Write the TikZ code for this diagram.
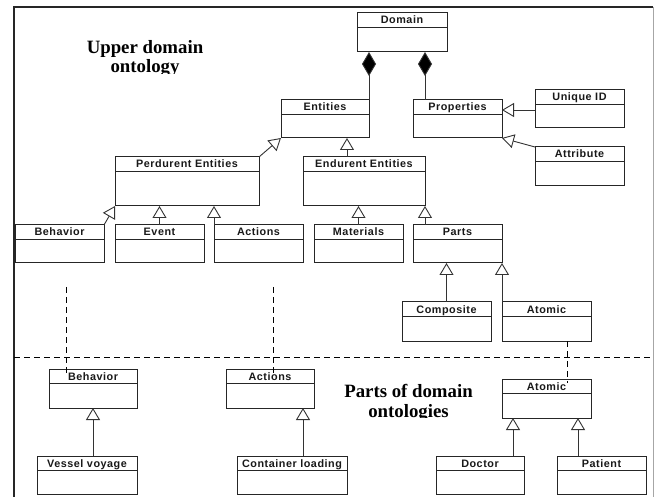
\documentclass[tikz,border=0pt]{standalone}
\usepackage{fontspec}
\setmainfont{Liberation Serif}
\setsansfont{Liberation Sans}
\usetikzlibrary{arrows.meta}
\newfontfamily\lblfont[LetterSpace=5]{Liberation Sans}
\tikzset{
  cls/.style={draw=black!85, line width=1pt, rectangle, inner sep=0pt, outer sep=0pt, anchor=north west},
  clsline/.style={draw=black!85, line width=1pt},
  lbl/.style={font=\lblfont\bfseries\fontsize{10.8pt}{12pt}\selectfont, anchor=base, inner sep=0pt, text=black!90},
  gen/.style={draw=black!80, line width=0.9pt, -{Triangle[open, length=12pt, width=14pt, line width=0.9pt]}},
  comp/.style={draw=black!80, line width=0.9pt, -{Diamond[length=24pt, width=14pt, fill=black]}},
  dsh/.style={draw=black, line width=1pt, dash pattern=on 6pt off 4pt},
  ttl/.style={font=\bfseries\fontsize{18.8pt}{20pt}\selectfont, anchor=base, inner sep=0pt},
}
\newcommand\umlclass[6]{%
  \node[cls, minimum width=#4pt, minimum height=#5pt] (#1) at (#2,#3) {};
  \draw[clsline] ([yshift=-14.5pt]#1.north west) -- ([yshift=-14.5pt]#1.north east);
  \node[lbl] at ([yshift=-11pt]#1.north) {#6};
}
\begin{document}
\begin{tikzpicture}[x=1pt, y=-1pt]
\fill[white] (0,0) rectangle (659,497);
\useasboundingbox (0,0) rectangle (659,497);
% frame
\draw[black!85, line width=1.4pt] (14,497) -- (14,7) -- (653,7);
\draw[black!35, line width=1pt] (653,7) -- (653,497);
% classes
\umlclass{domain}{357}{13}{90}{39}{Domain}
\umlclass{ent}{281}{100}{88}{38}{Entities}
\umlclass{props}{413}{100}{89}{38}{Properties}
\umlclass{uid}{535}{90}{89}{38}{Unique ID}
\umlclass{attr}{535}{147}{89}{39}{Attribute}
\umlclass{perd}{115}{157}{144}{49}{Perdurent Entities}
\umlclass{endu}{303}{157}{122}{49}{Endurent Entities}
\umlclass{beh}{15}{225}{89}{38}{Behavior}
\umlclass{event}{115}{225}{89}{38}{Event}
\umlclass{act}{214}{225}{89}{38}{Actions}
\umlclass{mat}{314}{225}{89}{38}{Materials}
\umlclass{parts}{413}{225}{89}{38}{Parts}
\umlclass{compo}{402}{302}{89}{39}{Composite}
\umlclass{atom}{502}{302}{89}{39}{Atomic}
\umlclass{beh2}{49}{369}{88}{39}{Behavior}
\umlclass{act2}{226}{369}{88}{39}{Actions}
\umlclass{vessel}{37}{456}{100}{38}{Vessel voyage}
\umlclass{cont}{237}{456}{110}{38}{Container loading}
\umlclass{atom2}{502}{379}{89}{39}{Atomic}
\umlclass{doc}{436}{456}{88}{38}{Doctor}
\umlclass{pat}{557}{456}{89}{38}{Patient}
% composition
\draw[comp] (ent.north east) -- (ent.north east |- domain.south);
\coordinate (pd) at ([xshift=12pt]props.north west);
\draw[comp] (pd) -- (pd |- domain.south);
% generalizations
\draw[gen] ([yshift=-20pt]uid.north west) -- ([yshift=-10pt]props.north east);
\draw[gen] (attr.north west) -- (props.south east);
\draw[gen] (perd.north east) -- (ent.south west);
\coordinate (ee) at ([xshift=44pt]endu.north west);
\draw[gen] (ee) -- (ee |- ent.south);
\draw[gen] (beh.north east) -- (perd.south west);
\draw[gen] (event.north) -- (event.north |- perd.south);
\draw[gen] (act.north west) -- (act.north west |- perd.south);
\draw[gen] (mat.north) -- (mat.north |- endu.south);
\draw[gen] (parts.north -| endu.south east) -- (endu.south east);
\draw[gen] (compo.north) -- (compo.north |- parts.south);
\draw[gen] (atom.north west) -- (parts.south east);
\draw[gen] (vessel.north -| beh2.south) -- (beh2.south);
\coordinate (cc) at ([xshift=66pt]cont.north west);
\draw[gen] (cc) -- (cc |- act2.south);
\coordinate (d1) at ([xshift=11pt]atom2.south west);
\draw[gen] (doc.north -| d1) -- (d1);
\coordinate (p1) at ([xshift=-13pt]atom2.south east);
\draw[gen] (pat.north -| p1) -- (p1);
% dashed links
\coordinate (bt) at ([yshift=-24pt]beh.south);
\coordinate (bb) at ([xshift=17pt,yshift=-6pt]beh2.north west);
\draw[dsh] (bt -| bb) -- (bb);
\coordinate (at) at ([yshift=-24pt]act.south);
\coordinate (ab) at ([xshift=47pt,yshift=-6pt]act2.north west);
\draw[dsh] (at -| ab) -- (ab);
\coordinate (mb) at ([xshift=65pt,yshift=-4pt]atom2.north west);
\draw[dsh] (atom.south -| mb) -- (mb);
\draw[dsh] (14,357) -- (653,357);
% titles (clipped as in the source)
\begin{scope}
\clip (0,0) rectangle (659,73.5);
\node[ttl] (t1) at (145,54) {Upper domain};
\node[ttl] (t2) at (145,73) {ontology};
\end{scope}
\begin{scope}
\clip (0,360) rectangle (659,417.5);
\node[ttl] (t3) at (408.5,397) {Parts of domain};
\node[ttl] (t4) at (408.5,417) {ontologies};
\end{scope}
\end{tikzpicture}
\end{document}
